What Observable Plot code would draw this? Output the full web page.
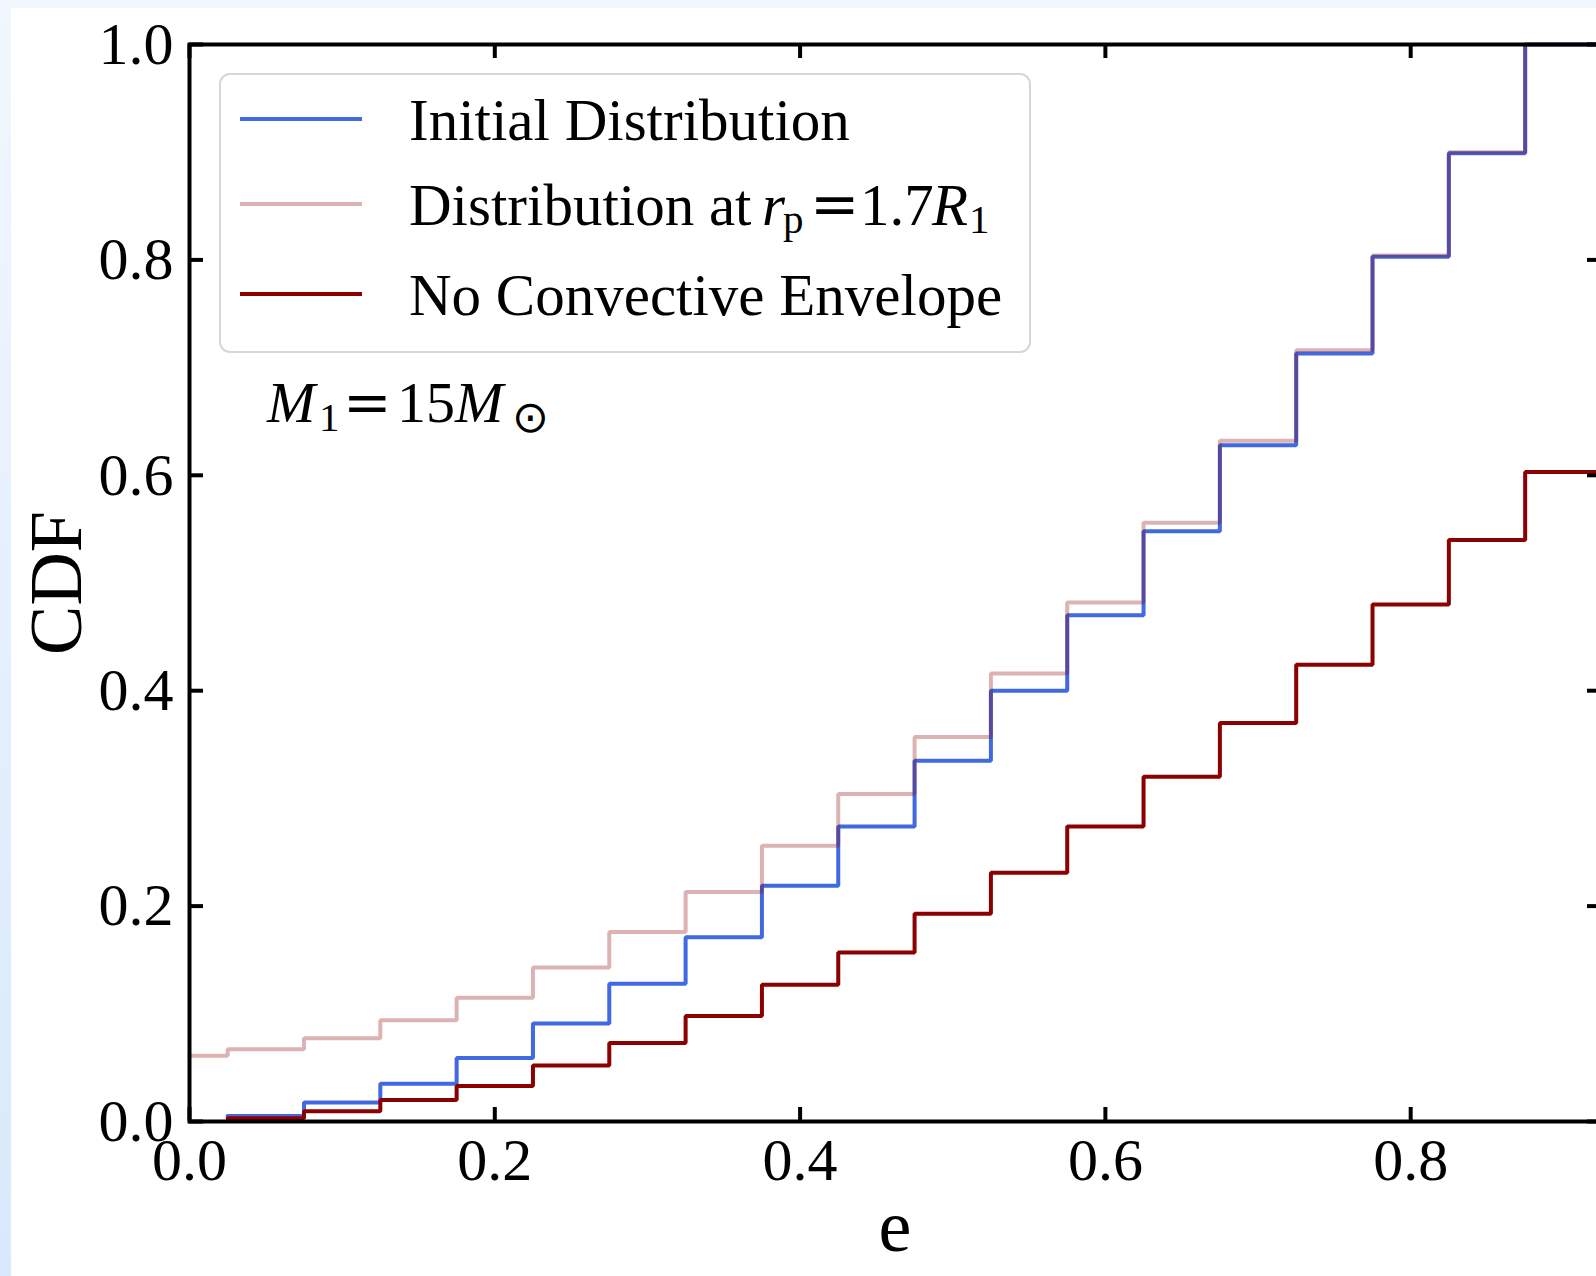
<!DOCTYPE html>
<html>
<head>
<meta charset="utf-8">
<script src="https://cdn.jsdelivr.net/npm/d3@7"></script>
<script src="https://cdn.jsdelivr.net/npm/@observablehq/plot@0.6"></script>
<style>
  html, body { margin: 0; padding: 0; width: 1596px; height: 1276px; overflow: hidden;
    background: linear-gradient(#f1f7fe, #d9e8fb); }
  #panel { position: absolute; left: 11px; top: 8px; width: 1585px; height: 1268px;
    background: #ffffff; overflow: hidden; }
  #chart { position: absolute; left: -11px; top: -8px; }
</style>
</head>
<body>
<div id="panel"><div id="chart"></div></div>
<script>
// ---- data ----
// eccentricity bin edges where the step CDFs jump
const stepEdges = [0.025, 0.075, 0.125, 0.175, 0.225, 0.275, 0.325, 0.375, 0.425,
                   0.475, 0.525, 0.575, 0.625, 0.675, 0.725, 0.775, 0.825, 0.875];
const eMax = 0.925;           // right end of the x axis
const rpStartValue = 0.061;   // value of the r_p = 1.7 R1 CDF at e = 0

const initialCDF = [0.005, 0.0176, 0.035, 0.059, 0.091, 0.128, 0.171, 0.219, 0.274,
                    0.335, 0.400, 0.470, 0.548, 0.628, 0.713, 0.803, 0.899, 1.0];
const rp17CDF    = [0.067, 0.0774, 0.094, 0.115, 0.143, 0.176, 0.213, 0.256, 0.304,
                    0.357, 0.416, 0.482, 0.556, 0.632, 0.716, 0.804, 0.900, 1.0];
const noConvCDF  = [0.003, 0.0096, 0.020, 0.033, 0.052, 0.073, 0.098, 0.127, 0.157,
                    0.193, 0.231, 0.274, 0.320, 0.370, 0.424, 0.480, 0.540, 0.603];

const xTicks = [0, 0.2, 0.4, 0.6, 0.8];
const yTicks = [0, 0.2, 0.4, 0.6, 0.8, 1.0];

const seriesNames = ["Initial Distribution", "Distribution at rp = 1.7R1", "No Convective Envelope"];

// ---- build step tables ----
function stepTable(values, startValue) {
  const rows = [];
  if (startValue !== undefined) rows.push({e: 0, cdf: startValue});
  stepEdges.forEach((e, i) => rows.push({e, cdf: values[i]}));
  rows.push({e: eMax, cdf: values[values.length - 1]});
  return rows;
}
const initialData = stepTable(initialCDF);
const rpData = stepTable(rp17CDF, rpStartValue);
const noConvData = stepTable(noConvCDF);

// ---- layout ----
const W = 1611, H = 1276;
const mL = 189, mT = 44, mR = 10, mB = 155;
const plotW = W - mL - mR, plotH = H - mT - mB;
const tickLen = 14, lw = 4;
const serif = "'Liberation Serif', 'Times New Roman', Times, serif";
const eqFont = "'DejaVu Serif', serif";

const BLUE = "#4169e1", DARKRED = "#8b0000";

const plot = Plot.plot({
  width: W, height: H,
  marginLeft: mL, marginTop: mT, marginRight: mR, marginBottom: mB,
  style: {background: "transparent", maxWidth: "none", fontFamily: serif, overflow: "visible", color: "black"},
  x: {domain: [0, eMax], label: null},
  y: {domain: [0, 1], label: null},
  marks: [
    Plot.line(initialData, {x: "e", y: "cdf", curve: "step-after", stroke: BLUE, strokeWidth: lw, strokeLinejoin: "miter"}),
    Plot.line(rpData, {x: "e", y: "cdf", curve: "step-after", stroke: DARKRED, strokeOpacity: 0.3, strokeWidth: lw, strokeLinejoin: "miter"}),
    Plot.line(noConvData, {x: "e", y: "cdf", curve: "step-after", stroke: DARKRED, strokeWidth: lw, strokeLinejoin: "miter"}),
    Plot.frame({stroke: "black", strokeWidth: lw}),
    // inward ticks: bottom, top, left, right
    Plot.ruleX(xTicks, {x: d => d, insetTop: plotH - tickLen, stroke: "black", strokeWidth: lw}),
    Plot.ruleX(xTicks, {x: d => d, insetBottom: plotH - tickLen, stroke: "black", strokeWidth: lw}),
    Plot.ruleY(yTicks, {y: d => d, insetRight: plotW - tickLen, stroke: "black", strokeWidth: lw}),
    Plot.ruleY(yTicks, {y: d => d, insetLeft: plotW - tickLen, stroke: "black", strokeWidth: lw}),
    Plot.axisX(xTicks, {tickSize: 0, tickPadding: 16, tickFormat: d3.format(".1f"), fontSize: 60, fontFamily: serif, label: null, fill: "black"}),
    Plot.axisY(yTicks, {tickSize: 0, tickPadding: 16, tickFormat: d3.format(".1f"), fontSize: 60, fontFamily: serif, label: null, fill: "black"})
  ]
});
document.getElementById("chart").appendChild(plot);

// ---- overlays: axis titles, legend, annotation ----
const svg = d3.select(plot);
const ov = svg.append("g").attr("font-family", serif).attr("fill", "black")
  .attr("text-anchor", "start");

ov.append("text").attr("transform", "translate(81,583) rotate(-90)")
  .attr("text-anchor", "middle").attr("font-size", 74).text("CDF");
ov.append("text").attr("x", 895).attr("y", 1251)
  .attr("text-anchor", "middle").attr("font-size", 74).text("e");

function rich(g, parts, baseline, size) {
  const t = g.append("text").attr("font-size", size).attr("text-anchor", "start");
  parts.forEach(p => {
    const s = t.append("tspan").attr("x", p.x).attr("y", baseline + (p.dy || 0))
      .attr("font-size", p.size || size).text(p.t);
    if (p.italic) s.attr("font-style", "italic");
    if (p.family) s.attr("font-family", p.family);
  });
}

// legend
const lg = ov.append("g");
lg.append("rect").attr("x", 220).attr("y", 74).attr("width", 810).attr("height", 278)
  .attr("rx", 10).attr("fill", "white").attr("fill-opacity", 0.8)
  .attr("stroke", "#d6d6d6").attr("stroke-width", 2);
const swatches = [
  {y: 119, stroke: BLUE, op: 1},
  {y: 204, stroke: DARKRED, op: 0.3},
  {y: 294, stroke: DARKRED, op: 1}
];
swatches.forEach(s => lg.append("line").attr("x1", 240).attr("x2", 362)
  .attr("y1", s.y).attr("y2", s.y).attr("stroke", s.stroke)
  .attr("stroke-opacity", s.op).attr("stroke-width", lw));
lg.append("text").attr("x", 409).attr("y", 140).attr("font-size", 59)
  .attr("text-anchor", "start").text(seriesNames[0]);
rich(lg, [
  {x: 409, t: "Distribution at"},
  {x: 762, t: "r", italic: true},
  {x: 783, t: "p", size: 41, dy: 8},
  {x: 810, t: "=", family: eqFont},
  {x: 860, t: "1.7"},
  {x: 932, t: "R", italic: true},
  {x: 969, t: "1", size: 41, dy: 8}
], 225, 59);
lg.append("text").attr("x", 409).attr("y", 315).attr("font-size", 59)
  .attr("text-anchor", "start").text(seriesNames[2]);

// annotation M1 = 15 Msun
rich(ov, [
  {x: 267, t: "M", italic: true},
  {x: 319, t: "1", size: 41, dy: 9},
  {x: 343, t: "=", family: eqFont},
  {x: 397, t: "15"},
  {x: 455, t: "M", italic: true},
  {x: 512, t: "\u2299", size: 44, dy: 10, family: "'DejaVu Sans'"}
], 422, 58);
</script>
</body>
</html>
